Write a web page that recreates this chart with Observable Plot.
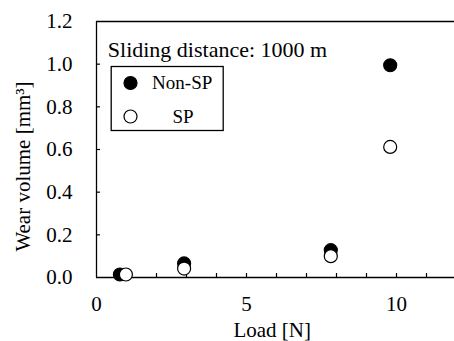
<!DOCTYPE html>
<html>
<head>
<meta charset="utf-8">
<script src="https://cdn.jsdelivr.net/npm/d3@7"></script>
<script src="https://cdn.jsdelivr.net/npm/@observablehq/plot@0.6"></script>
<style>
  html, body { margin: 0; padding: 0; background: #fff; }
  #chart { width: 454px; height: 341px; }
  #chart svg, #chart svg text { font-family: "Liberation Serif", "Times New Roman", serif !important; }
</style>
</head>
<body>
<div id="chart"></div>
<script>
// Data
const seriesNames = ["Non-SP", "SP"];
const loadNonSP = [0.78, 2.92, 7.81, 9.79];
const wearNonSP = [0.014, 0.066, 0.128, 0.995];
const loadSP = [0.98, 2.92, 7.81, 9.79];
const wearSP = [0.014, 0.042, 0.10, 0.612];
const xTickLabels = [0, 5, 10];
const yTickLabels = [0, 0.2, 0.4, 0.6, 0.8, 1.0, 1.2];
const xMinorTicks = [1, 2, 3, 4, 5, 6, 7, 8, 9, 10, 11];
const yMinorTicks = [0.2, 0.4, 0.6, 0.8, 1.0];
const annotation = "Sliding distance: 1000 m";
const xLabel = "Load [N]";
const yLabel = "Wear volume [mm³]";

const nonSP = loadNonSP.map((x, i) => ({x, y: wearNonSP[i]}));
const sp = loadSP.map((x, i) => ({x, y: wearSP[i]}));

const font = "Liberation Serif";
const mL = 96, mT = 21, mB = 64, W = 454, H = 341;

const chart = Plot.plot({
  width: W,
  height: H,
  marginLeft: mL,
  marginTop: mT,
  marginRight: 0,
  marginBottom: mB,
  style: {fontFamily: font, fontSize: "21px", background: "white", color: "black"},
  x: {domain: [0, 12], range: [mL, mL + 360], ticks: xTickLabels, tickSize: 0, tickPadding: 19, label: null},
  y: {domain: [0, 1.2], ticks: yTickLabels, tickSize: 0, tickPadding: 24, tickFormat: d3.format(".1f"), label: null},
  marks: [
    // plot border: bottom, top, left
    Plot.ruleY([0, 1.2], {stroke: "black", strokeWidth: 1.3}),
    Plot.ruleX([0], {stroke: "black", strokeWidth: 1.3}),
    // inward ticks
    Plot.ruleX(xMinorTicks, {x: d => d, y1: 0, y2: 0, insetTop: -4, stroke: "black", strokeWidth: 1.2}),
    Plot.ruleY(yMinorTicks, {y: d => d, x1: 0, x2: 0, insetRight: -4, stroke: "black", strokeWidth: 1.2}),
    // data
    Plot.dot(nonSP, {x: "x", y: "y", r: 6.5, fill: "black", stroke: "black", strokeWidth: 1.2}),
    Plot.dot(sp, {x: "x", y: "y", r: 6.5, fill: "white", stroke: "black", strokeWidth: 1.2}),
    // annotation
    Plot.text([annotation], {frameAnchor: "top-left", textAnchor: "start", lineAnchor: "bottom", dx: 11.3, dy: 35, fontSize: 22, fontFamily: font, fill: "black"}),
    // legend box
    Plot.frame({insetLeft: 14.7, insetTop: 45, insetRight: W - 222.7, insetBottom: (H - mB) - 130, fill: "white", stroke: "black", strokeWidth: 1.3}),
    Plot.dot([seriesNames[0]], {frameAnchor: "top-left", dx: 34, dy: 61.5, r: 6.5, fill: "black", stroke: "black", strokeWidth: 1.2}),
    Plot.dot([seriesNames[1]], {frameAnchor: "top-left", dx: 34, dy: 95, r: 6.5, fill: "white", stroke: "black", strokeWidth: 1.2}),
    Plot.text([seriesNames[0]], {frameAnchor: "top-left", textAnchor: "middle", lineAnchor: "middle", dx: 85.7, dy: 61.5, fontSize: 19, fontFamily: font, fill: "black"}),
    Plot.text([seriesNames[1]], {frameAnchor: "top-left", textAnchor: "middle", lineAnchor: "middle", dx: 86.5, dy: 95, fontSize: 19, fontFamily: font, fill: "black"}),
    // axis titles
    Plot.text([xLabel], {frameAnchor: "bottom", textAnchor: "middle", lineAnchor: "middle", dx: -3.3, dy: 53, fontSize: 21, fontFamily: font, fill: "black"}),
    Plot.text([yLabel], {frameAnchor: "left", rotate: -90, textAnchor: "middle", lineAnchor: "middle", dx: -73, dy: 17, fontSize: 21, fontFamily: font, fill: "black"})
  ]
});
document.getElementById("chart").appendChild(chart);
</script>
</body>
</html>
